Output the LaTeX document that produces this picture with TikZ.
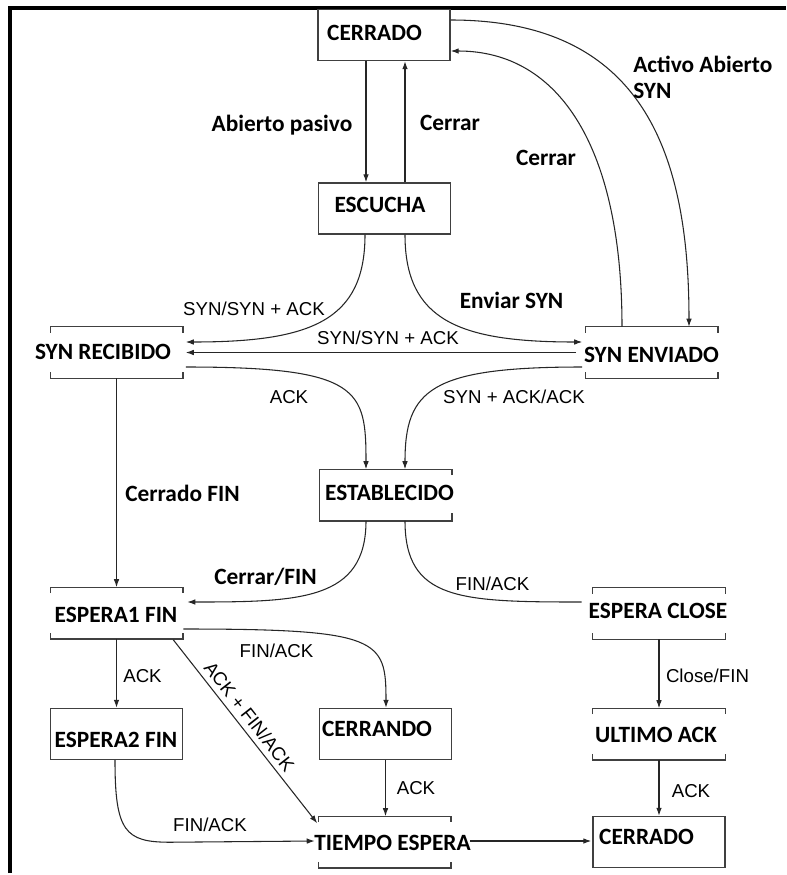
\documentclass[tikz,border=0pt]{standalone}
\usepackage{fontspec}
\setmainfont{Liberation Sans}
\newfontfamily\statefont{Carlito}
\usetikzlibrary{arrows.meta,calc}
\definecolor{boxgray}{gray}{0.25}

\begin{document}
\begin{tikzpicture}[x=0.75pt,y=-0.75pt,
  box/.style={rectangle, inner sep=0pt, minimum width=99pt, minimum height=38.25pt},
  fullbox/.style={box, draw=boxgray, line width=1.1pt},
  openbox/.style={box},
  rim/.style={draw=boxgray, line width=1.1pt},
  bold/.style={font=\statefont\bfseries\fontsize{17.5}{20}\selectfont, inner sep=0pt, anchor=base},
  tag/.style={font=\fontsize{14}{16}\selectfont, inner sep=0pt, anchor=base},
  edge/.style={draw=black!85, line width=0.8pt},
  arr/.style={edge, -{Latex[length=6pt,width=4.2pt]}},
]
\useasboundingbox (0,0) rectangle (786,875);

% frame
\draw[line width=2.5pt] (10,873) -- (10,8) -- (786,8);

% states
\node[fullbox] (c1)       at (384,35)      {};
\node[fullbox] (esc)      at (384.5,208.5) {};
\node[openbox] (synr)     at (116.5,352.5) {};
\node[openbox] (syne)     at (651.5,352.5) {};
\node[openbox] (estab)    at (385.5,495)   {};
\node[openbox] (esp1)     at (116.5,613)   {};
\node[openbox] (espc)     at (659,613.5)   {};
\node[fullbox] (esp2)     at (116.5,734)   {};
\node[fullbox] (cerrando) at (385.5,734)   {};
\node[openbox] (ult)      at (659,734)     {};
\node[openbox] (tiem)     at (384.5,842)   {};
\node[fullbox] (c2)       at (659,842)     {};

% open boxes: sides cut away, short ticks at the corners
\foreach \n in {synr,syne,esp1,espc,ult,tiem} {
  \draw[rim] ($(\n.north west)+(0,6)$) -- (\n.north west) -- (\n.north east) -- ($(\n.north east)+(0,6)$);
  \draw[rim] ($(\n.south west)+(0,-6)$) -- (\n.south west) -- (\n.south east) -- ($(\n.south east)+(0,-6)$);
}
\draw[rim] ($(estab.north east)+(0,6)$) -- (estab.north east) -- (estab.north west)
  -- (estab.south west) -- (estab.south east) -- ($(estab.south east)+(0,-8)$);

% state names
\node[bold] (c1t)       at (374.5,40)  {CERRADO};
\node[bold] (esct)      at (380,212)   {ESCUCHA};
\node[bold] (synrt)     at (103,359)   {SYN RECIBIDO};
\node[bold] (synet)     at (651.5,362) {SYN ENVIADO};
\node[bold] (estabt)    at (389.5,500) {ESTABLECIDO};
\node[bold] (esp1t)     at (116,622)   {ESPERA1 FIN};
\node[bold] (espct)     at (658,618)   {ESPERA CLOSE};
\node[bold] (esp2t)     at (116,747)   {ESPERA2 FIN};
\node[bold] (cerrandot) at (377,736)   {CERRANDO};
\node[bold] (ultt)      at (656,742)   {ULTIMO ACK};
\node[bold] (tiemt)     at (392.5,850) {TIEMPO ESPERA};
\node[bold] (c2t)       at (646.5,844) {CERRADO};

% transitions
\draw[arr] ($(c1.south)+(-18,0)$) -- ($(esc.north)+(-18.5,0)$);
\draw[arr] ($(esc.north)+(20.5,0)$) -- ($(c1.south)+(21,0)$);
\draw[arr] ($(c1.east)+(0,-15)$) .. controls +(190,0) and +(0,-177) .. ($(syne.north)+(37.5,0)$);
\draw[arr] ($(syne.north)+(-29.5,0)$) .. controls +(0,-177) and +(110,0) .. ($(c1.east)+(0,16)$);
\draw[arr] ($(esc.south)+(-19.5,0)$) .. controls +(0,86) and +(125,0) .. ($(synr.east)+(3,-10.5)$);
\draw[arr] ($(syne.west)+(-9,0)$) -- ($(synr.east)+(3,0)$);
\draw[arr] ($(synr.east)+(3,14.5)$) .. controls +(175,0) and +(0,-79.5) .. ($(estab.north)+(-19.5,0)$);
\draw[arr] ($(esc.south)+(20.5,0)$) .. controls +(0,86) and +(-122.5,0) .. ($(syne.west)+(-3,-10.5)$);
\draw[arr] ($(syne.west)+(-3,14.5)$) .. controls +(-152,0) and +(0,-79.5) .. ($(estab.north)+(19.5,0)$);
\draw[arr] (synr.south) -- (esp1.north);
\draw[arr] ($(estab.south)+(-19.5,0)$) .. controls +(0,79.5) and +(113,0) .. ($(esp1.east)+(4.5,-11)$);
\draw[edge] ($(estab.south)+(19.5,0)$) .. controls +(0,79.5) and +(-122,0) .. ($(espc.west)+(-11,-11.5)$);
\draw[arr] ($(esp1.east)+(0.5,16)$) .. controls +(197,0) and +(0,-68.5) .. ($(cerrando.north)+(0.5,0)$);
\draw[arr] (esp1.south) -- (esp2.north);
\draw[arr] ($(esp1.south east)+(-9.5,1)$) -- ($(tiem.north west)+(-1,7)$)
  node[pos=0.46, sloped, tag, anchor=south, inner sep=4pt] (l19) {ACK + FIN/ACK};
\draw[arr] ($(esp2.south)+(-1.5,0)$) .. controls +(0,71) and +(-45,0) .. ++(55,82)
  -- ($(tiem.west)+(-3.5,-1)$);
\draw[arr] (cerrando.south) -- (cerrando.south |- tiem.north);
\draw[arr] ($(tiem.east)+(19.5,-1)$) -- ($(c2.west)+(-1,-1)$);
\draw[arr] (espc.south) -- (ult.north);
\draw[arr] (ult.south) -- (c2.north);

% transition labels
\node[bold] (l1) at (282,131) {Abierto pasivo};
\node[bold] (l2) at (450,130) {Cerrar};
\node[bold] (l3) at (546,165) {Cerrar};
\node[bold, anchor=base west] (l4a) at (633,72) {Activo Abierto};
\node[bold, anchor=base west] (l4b) at (633,98) {SYN};
\node[tag] (l5) at (254,315) {SYN/SYN + ACK};
\node[tag] (l6) at (388,344) {SYN/SYN + ACK};
\node[bold] (l7) at (511.5,308) {Enviar SYN};
\node[tag] (l8) at (289,403) {ACK};
\node[tag] (l9) at (514,403) {SYN + ACK/ACK};
\node[bold] (l10) at (182.5,501) {Cerrado FIN};
\node[bold] (l11) at (265.5,584) {Cerrar/FIN};
\node[tag] (l12) at (492.5,590) {FIN/ACK};
\node[tag] (l13) at (276.5,657) {FIN/ACK};
\node[tag] (l14) at (142.5,682) {ACK};
\node[tag] (l15) at (210,831) {FIN/ACK};
\node[tag] (l16) at (416,794) {ACK};
\node[tag] (l17) at (707.5,682) {Close/FIN};
\node[tag] (l18) at (691,797) {ACK};
\end{tikzpicture}
\end{document}
